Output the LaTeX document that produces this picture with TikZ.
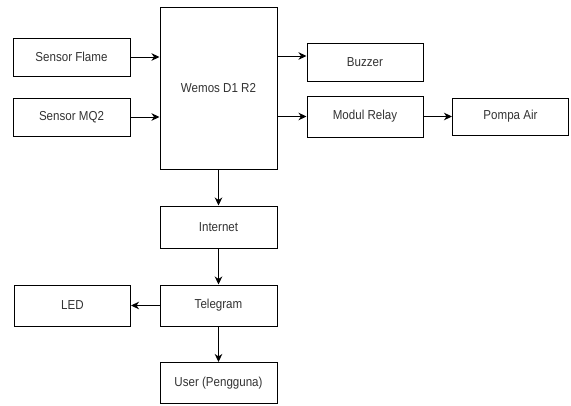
\documentclass[tikz,border=0pt]{standalone}
\usepackage{fontspec}
\setmainfont[FakeStretch=0.89]{Liberation Sans}
\usetikzlibrary{arrows.meta}
\begin{document}
\begin{tikzpicture}[x=1pt,y=-1pt,
  box/.style={draw=black,line width=1pt,fill=white,inner sep=0pt,text=black!80,font=\fontsize{13}{15}\selectfont},
  arr/.style={line width=1pt,-{Stealth[length=8pt,width=7.5pt,inset=2.5pt]}}]
\useasboundingbox (0,0) rectangle (571,405);
\node[box,minimum width=117pt,minimum height=38pt] (flame) at (71.5,57) {Sensor Flame};
\node[box,minimum width=117pt,minimum height=38pt] (mq2) at (71.5,117) {Sensor MQ2};
\node[box,minimum width=117pt,minimum height=162pt] (wemos) at (218.5,88) {Wemos D1 R2};
\node[box,minimum width=116pt,minimum height=38pt] (buzzer) at (365,62) {Buzzer};
\node[box,minimum width=116pt,minimum height=41pt] (relay) at (365,116.5) {Modul Relay};
\node[box,minimum width=116pt,minimum height=37pt] (pompa) at (510.5,116.5) {Pompa Air};
\node[box,minimum width=117pt,minimum height=42pt] (internet) at (218.5,227) {Internet};
\node[box,minimum width=117pt,minimum height=41pt] (telegram) at (218.5,305.5) {Telegram};
\node[box,minimum width=116pt,minimum height=41pt] (led) at (72.5,305.5) {LED};
\node[box,minimum width=117pt,minimum height=41pt] (user) at (218.5,383) {User (Pengguna)};
\draw[arr] (flame.east) -- (flame.east -| wemos.west);
\draw[arr] (mq2.east) -- (mq2.east -| wemos.west);
\draw[arr] ([yshift=6pt]buzzer.west -| wemos.east) -- ([yshift=6pt]buzzer.west);
\draw[arr] (relay.west -| wemos.east) -- (relay.west);
\draw[arr] (relay.east) -- (relay.east -| pompa.west);
\draw[arr] (wemos.south) -- (internet.north);
\draw[arr] (internet.south) -- (telegram.north);
\draw[arr] (telegram.west) -- (led.east);
\draw[arr] (telegram.south) -- (user.north);
\end{tikzpicture}
\end{document}
